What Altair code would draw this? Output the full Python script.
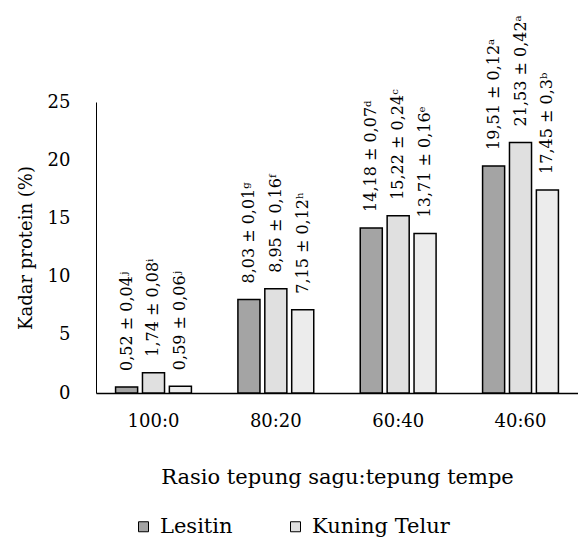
import altair as alt
import pandas as pd

categories = ["100:0", "80:20", "60:40", "40:60"]
series = ["Lesitin", "Kuning Telur", "Tanpa pengemulsi"]
lesitin = [0.52, 8.03, 14.18, 19.51]
kuning = [1.74, 8.95, 15.22, 21.53]
third = [0.59, 7.15, 13.71, 17.45]
lesitin_lbl = ["0,52 ± 0,04ʲ", "8,03 ± 0,01ᵍ", "14,18 ± 0,07ᵈ", "19,51 ± 0,12ᵃ"]
kuning_lbl = ["1,74 ± 0,08ⁱ", "8,95 ± 0,16ᶠ", "15,22 ± 0,24ᶜ", "21,53 ± 0,42ᵃ"]
third_lbl = ["0,59 ± 0,06ʲ", "7,15 ± 0,12ʰ", "13,71 ± 0,16ᵉ", "17,45 ± 0,3ᵇ"]
fills = ["#a4a4a4", "#e0e0e0", "#ececec"]
y_ticks = [0, 5, 10, 15, 20, 25]

rows = []
for s, vals, lbls in zip(series, [lesitin, kuning, third], [lesitin_lbl, kuning_lbl, third_lbl]):
    for c, v, l in zip(categories, vals, lbls):
        rows.append({"rasio": c, "seri": s, "nilai": v, "label": l})
df = pd.DataFrame(rows)

FONT = "DejaVu Serif"

base = alt.Chart(df).encode(
    x=alt.X(
        "rasio:N",
        sort=categories,
        scale=alt.Scale(paddingInner=0.38, paddingOuter=0.16),
        axis=alt.Axis(
            title="Rasio tepung sagu:tepung tempe",
            labelAngle=0,
            tickSize=0,
            labelPadding=19,
            labelFontSize=18,
            titleFontSize=21,
            titlePadding=36,
            domainColor="black",
            domainWidth=1.5,
        ),
    ),
    xOffset=alt.XOffset("seri:N", sort=series, scale=alt.Scale(paddingInner=0.18)),
    y=alt.Y(
        "nilai:Q",
        scale=alt.Scale(domain=[0, 25], nice=False),
        axis=alt.Axis(
            title="Kadar protein (%)",
            values=y_ticks,
            tickSize=0,
            grid=False,
            labelFontSize=18,
            titleFontSize=18,
            labelPadding=26,
            titlePadding=12,
            domainColor="black",
            domainWidth=1,
        ),
    ),
)

bars = base.mark_bar(stroke="black", strokeWidth=1.5).encode(
    fill=alt.Fill(
        "seri:N",
        sort=series,
        scale=alt.Scale(domain=series, range=fills),
        legend=alt.Legend(
            values=["Lesitin", "Kuning Telur"],
            title=None,
            orient="none",
            direction="horizontal",
            legendX=37,
            legendY=414,
            symbolType="square",
            symbolSize=100,
            symbolStrokeColor="black",
            symbolStrokeWidth=1,
            labelFontSize=21,
            labelFont=FONT,
            labelColor="black",
            columnPadding=52,
            symbolOffset=0,
            labelOffset=6,
        ),
    )
)

labels = base.mark_text(
    angle=270,
    align="left",
    baseline="middle",
    dx=16,
    font=FONT,
    fontSize=16,
    color="black",
).encode(text="label:N")

chart = (
    alt.layer(bars, labels)
    .properties(
        width=482,
        height=291,
        autosize=alt.AutoSizeParams(type="none"),
        padding={"left": 96, "top": 102, "right": 0, "bottom": 145},
    )
    .configure_view(stroke=None)
    .configure_axis(
        labelFont=FONT,
        titleFont=FONT,
        labelColor="black",
        titleColor="black",
        titleFontWeight="normal",
    )
)

chart.save("out.html", embed_options={"renderer": "svg", "actions": False})
